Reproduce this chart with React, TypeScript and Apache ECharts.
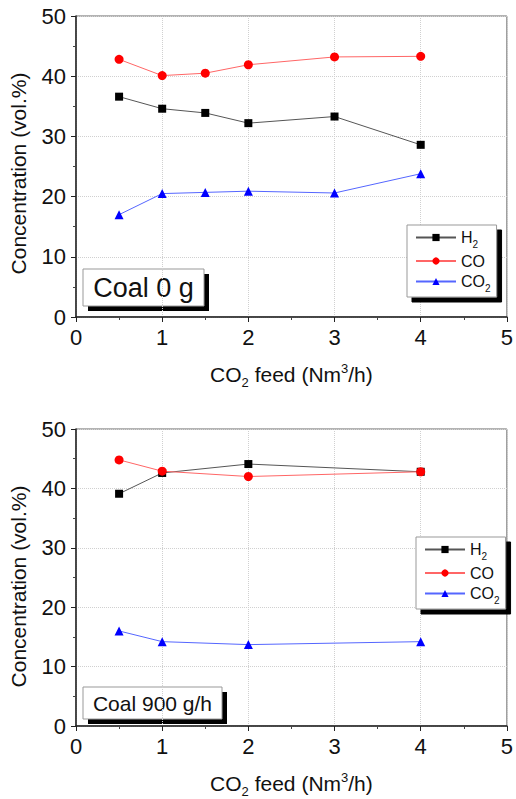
import React, { useEffect, useRef } from 'react';
import * as echarts from 'echarts';

const FONT = '"Liberation Sans", Arial, sans-serif';

// Top panel: Coal 0 g
const xTop = [0.5, 1, 1.5, 2, 3, 4];
const h2Top = [36.6, 34.6, 33.9, 32.2, 33.3, 28.6];
const coTop = [42.8, 40.1, 40.5, 41.9, 43.2, 43.3];
const co2Top = [17.0, 20.5, 20.7, 20.9, 20.6, 23.8];

// Bottom panel: Coal 900 g/h
const xBottom = [0.5, 1, 2, 4];
const h2Bottom = [39.1, 42.6, 44.1, 42.8];
const coBottom = [44.8, 42.9, 42.0, 42.8];
const co2Bottom = [16.0, 14.2, 13.7, 14.2];

const seriesNames = ['H2', 'CO', 'CO2'];
const panelLabels = ['Coal 0 g', 'Coal 900 g/h'];
const xTitle = '{a|CO}{s|2}{a| feed (Nm}{p|3}{a|/h)}';
const yTitle = 'Concentration (vol.%)';

const legendRich = {
  a: { fontSize: 16, fontFamily: FONT, color: '#111', lineHeight: 17 },
  s: { fontSize: 10, fontFamily: FONT, color: '#111', lineHeight: 10, verticalAlign: 'top', padding: [10, 0, 0, 0] },
};

const axisRich = {
  a: { fontSize: 21, fontFamily: FONT, color: '#111', lineHeight: 24 },
  s: { fontSize: 13, fontFamily: FONT, color: '#111', lineHeight: 12, verticalAlign: 'top', padding: [14, 0, 0, 0] },
  p: { fontSize: 13, fontFamily: FONT, color: '#111', lineHeight: 12, verticalAlign: 'top' },
};

function makeSeries(xs: number[], h2: number[], co: number[], co2: number[], idx: number) {
  return [
    {
      name: seriesNames[0], type: 'line', xAxisIndex: idx, yAxisIndex: idx,
      data: xs.map((x, i) => [x, h2[i]]),
      symbol: 'rect', symbolSize: 8,
      itemStyle: { color: '#000' }, lineStyle: { color: '#555', width: 1 },
    },
    {
      name: seriesNames[1], type: 'line', xAxisIndex: idx, yAxisIndex: idx,
      data: xs.map((x, i) => [x, co[i]]),
      symbol: 'circle', symbolSize: 9,
      itemStyle: { color: '#ff0000' }, lineStyle: { color: '#ff6666', width: 1 },
    },
    {
      name: seriesNames[2], type: 'line', xAxisIndex: idx, yAxisIndex: idx,
      data: xs.map((x, i) => [x, co2[i]]),
      symbol: 'triangle', symbolSize: 9,
      itemStyle: { color: '#0000ff' }, lineStyle: { color: '#5566ff', width: 1 },
    },
  ];
}

function makeXAxis(idx: number) {
  return {
    type: 'value', gridIndex: idx, min: 0, max: 5, interval: 1,
    axisLine: { show: true, onZero: false, lineStyle: { color: '#222', width: 1.5 } },
    axisTick: { show: true, length: 5, lineStyle: { color: '#222' } },
    minorTick: { show: true, splitNumber: 2, length: 3, lineStyle: { color: '#444' } },
    axisLabel: { fontSize: 22, color: '#111', margin: 9, fontFamily: FONT },
    splitLine: { show: true, lineStyle: { color: '#d0d0d0', type: 'dotted' } },
    name: xTitle, nameLocation: 'middle', nameGap: 45,
    nameTextStyle: { rich: axisRich },
  };
}

function makeYAxis(idx: number, shift: number) {
  return {
    type: 'value', gridIndex: idx, min: 0, max: 50, interval: 10,
    axisLine: { show: true, onZero: false, lineStyle: { color: '#222', width: 1.5 } },
    axisTick: { show: true, length: 5, lineStyle: { color: '#222' } },
    minorTick: { show: true, splitNumber: 2, length: 3, lineStyle: { color: '#444' } },
    axisLabel: { fontSize: 22, color: '#111', margin: 10, fontFamily: FONT },
    splitLine: { show: true, lineStyle: { color: '#d0d0d0', type: 'dotted' } },
    name: yTitle, nameLocation: 'middle', nameGap: 47,
    nameTextStyle: { fontSize: 21, fontFamily: FONT, color: '#111', padding: [0, shift, 0, 0] },
  };
}

function makeLegend(left: number, top: number) {
  return {
    orient: 'vertical', left, top,
    data: seriesNames,
    itemWidth: 40, itemHeight: 9, itemGap: 4,
    padding: [4, 6, 4, 8],
    backgroundColor: '#fff', borderColor: '#999', borderWidth: 1,
    shadowColor: '#000', shadowBlur: 0, shadowOffsetX: 5, shadowOffsetY: 5,
    selectedMode: false,
    formatter: (name: string) =>
      name === 'H2' ? '{a|H}{s|2}' : name === 'CO2' ? '{a|CO}{s|2}' : '{a|CO}',
    textStyle: { rich: legendRich },
  };
}

function makeLabelBox(x: number, y: number, w: number, h: number, text: string, fontSize: number) {
  return {
    type: 'group', x, y,
    children: [
      { type: 'rect', shape: { x: 5, y: 5, width: w, height: h }, style: { fill: '#000' } },
      { type: 'rect', shape: { x: 0, y: 0, width: w, height: h }, style: { fill: '#fff', stroke: '#999', lineWidth: 1 } },
      {
        type: 'text', x: w / 2, y: h / 2,
        style: { text, fontSize, fontFamily: FONT, fill: '#111', align: 'center', verticalAlign: 'middle' },
      },
    ],
  };
}

export default function App() {
  const ref = useRef<HTMLDivElement>(null);
  useEffect(() => {
    if (!ref.current) return;
    const chart = echarts.init(ref.current, null, { renderer: 'svg' });
    chart.setOption({
      animation: false,
      backgroundColor: '#fff',
      grid: [
        { left: 74, top: 16, width: 438, height: 301, show: true, borderColor: '#666', borderWidth: 1 },
        { left: 74, top: 429, width: 437, height: 301, show: true, borderColor: '#666', borderWidth: 1 },
      ],
      xAxis: [makeXAxis(0), makeXAxis(1)],
      yAxis: [makeYAxis(0, 14), makeYAxis(1, 18)],
      legend: [makeLegend(407, 225), makeLegend(416, 537)],
      series: [
        ...makeSeries(xTop, h2Top, coTop, co2Top, 0),
        ...makeSeries(xBottom, h2Bottom, coBottom, co2Bottom, 1),
      ],
      graphic: [
        makeLabelBox(83, 269, 121, 37, panelLabels[0], 27),
        makeLabelBox(83, 687, 139, 32, panelLabels[1], 21),
      ],
    });
    return () => chart.dispose();
  }, []);
  return (
    <div
      ref={ref}
      style={{ position: 'absolute', left: 0, top: 0, width: 516, height: 799 }}
    />
  );
}
